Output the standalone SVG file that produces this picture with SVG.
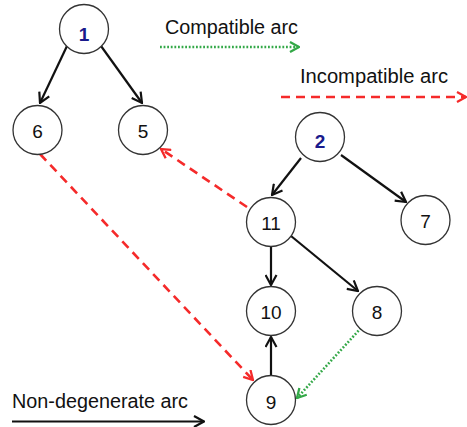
<svg xmlns="http://www.w3.org/2000/svg" width="467" height="427" viewBox="0 0 467 427">
  <style>
    .node circle { fill: #ffffff; stroke: #333333; stroke-width: 1.3; }
    .node text { font-family: "Liberation Sans", Arial, sans-serif; font-size: 19px; fill: #111111; text-anchor: middle; }
    .node text.root { font-weight: bold; fill: #1a1a8c; }
    .legend { font-family: "Liberation Sans", Arial, sans-serif; font-size: 20px; fill: #111111; }
    .solid { stroke: #111111; stroke-width: 2.2; fill: none; marker-end: url(#arrowBlack); }
    .incompat { stroke: #f52a2a; stroke-width: 2.6; fill: none; stroke-dasharray: 9 6; marker-end: url(#arrowRed); }
    .compat { stroke: #33a847; stroke-width: 2.6; fill: none; stroke-dasharray: 1.8 1.8; marker-end: url(#arrowGreen); }
  </style>
  <defs>
    <marker id="arrowBlack" viewBox="0 0 13 13" refX="12" refY="6.5" markerWidth="13" markerHeight="13" markerUnits="userSpaceOnUse" orient="auto">
      <path d="M2,1 L12,6.5 L2,12" fill="none" stroke="#111111" stroke-width="2.2"/>
    </marker>
    <marker id="arrowRed" viewBox="0 0 12 12" refX="11" refY="6" markerWidth="12" markerHeight="12" markerUnits="userSpaceOnUse" orient="auto">
      <path d="M2,1 L11,6 L2,11" fill="none" stroke="#f52a2a" stroke-width="2.3"/>
    </marker>
    <marker id="arrowGreen" viewBox="0 0 12 12" refX="11" refY="6" markerWidth="12" markerHeight="12" markerUnits="userSpaceOnUse" orient="auto">
      <path d="M2,1 L11,6 L2,11" fill="none" stroke="#33a847" stroke-width="2.3"/>
    </marker>
  </defs>

  <rect width="467" height="427" fill="#ffffff"/>

  <!-- legend -->
  <g id="legend">
    <text class="legend" x="165" y="34" textLength="133" lengthAdjust="spacingAndGlyphs">Compatible arc</text>
    <line class="compat" x1="160" y1="47" x2="299" y2="47"/>
    <text class="legend" x="300" y="83" textLength="148" lengthAdjust="spacingAndGlyphs">Incompatible arc</text>
    <line class="incompat" x1="281" y1="97" x2="466" y2="97"/>
    <text class="legend" x="12" y="408" textLength="176" lengthAdjust="spacingAndGlyphs">Non-degenerate arc</text>
    <line class="solid" x1="12" y1="421.5" x2="204" y2="421.5"/>
  </g>

  <!-- connectors -->
  <g id="connectors">
    <line class="solid" x1="67" y1="46" x2="40" y2="103"/>
    <line class="solid" x1="101" y1="46" x2="142" y2="103"/>
    <line class="solid" x1="301" y1="158" x2="272" y2="195"/>
    <line class="solid" x1="341" y1="155" x2="406" y2="202"/>
    <line class="solid" x1="271" y1="247" x2="271" y2="285"/>
    <line class="solid" x1="291" y1="236" x2="358" y2="291"/>
    <line class="solid" x1="271" y1="375" x2="271" y2="337"/>
    <line class="incompat" x1="247" y1="207" x2="161" y2="149"/>
    <line class="incompat" x1="40" y1="154" x2="253" y2="380"/>
    <line class="compat" x1="361" y1="328" x2="297" y2="398"/>
  </g>

  <!-- nodes -->
  <g id="node-1" class="node"><circle cx="84" cy="29" r="24.5"/><text class="root" x="84" y="41">1</text></g>
  <g id="node-6" class="node"><circle cx="37.5" cy="130" r="24.5"/><text x="37.5" y="138">6</text></g>
  <g id="node-5" class="node"><circle cx="143" cy="130" r="24.5"/><text x="143" y="138">5</text></g>
  <g id="node-2" class="node"><circle cx="320" cy="137" r="24.5"/><text class="root" x="320" y="148">2</text></g>
  <g id="node-11" class="node"><circle cx="271" cy="222" r="24.5"/><text x="271" y="230">11</text></g>
  <g id="node-7" class="node"><circle cx="425.5" cy="220" r="24.5"/><text x="425.5" y="228">7</text></g>
  <g id="node-10" class="node"><circle cx="271" cy="311" r="24.5"/><text x="271" y="319">10</text></g>
  <g id="node-8" class="node"><circle cx="377" cy="311" r="24.5"/><text x="377" y="319">8</text></g>
  <g id="node-9" class="node"><circle cx="271" cy="400" r="24.5"/><text x="271" y="409">9</text></g>
</svg>
